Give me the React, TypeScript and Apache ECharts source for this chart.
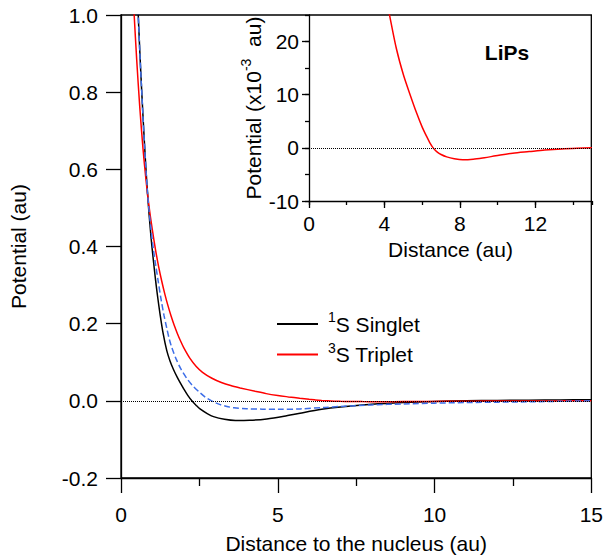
import React, { useEffect, useRef } from 'react';
import * as echarts from 'echarts';

const FONT = '"Liberation Sans", Arial, Helvetica, sans-serif';

// Distance r (au) vs potential V (au)
const singlet: [number, number][] = [
  [0.53, 1.04], [0.55, 1.0], [0.6, 0.905], [0.65, 0.82], [0.7, 0.74], [0.75, 0.665], [0.8, 0.595],
  [0.87, 0.51], [0.93, 0.45], [0.98, 0.405], [1.085, 0.325], [1.16, 0.275], [1.245, 0.225],
  [1.35, 0.172], [1.46, 0.13], [1.56, 0.104], [1.67, 0.082], [1.8, 0.06], [1.9, 0.045], [2.0, 0.031],
  [2.13, 0.014], [2.26, 0.0], [2.4, -0.012], [2.52, -0.021], [2.75, -0.033], [2.95, -0.041],
  [3.3, -0.048], [3.65, -0.051], [4.1, -0.0505], [4.65, -0.047], [5.2, -0.04], [5.71, -0.032],
  [6.4, -0.022], [7.0, -0.016], [8.0, -0.009], [9.0, -0.0045], [10.0, -0.0015], [11.0, 0.0],
  [12.0, 0.001], [13.0, 0.0017], [14.0, 0.0024], [15.0, 0.003],
];

const triplet: [number, number][] = [
  [0.4, 1.03], [0.42, 1.0], [0.5, 0.885], [0.6, 0.76], [0.7, 0.655], [0.8, 0.57], [0.9, 0.5],
  [1.0, 0.443], [1.1, 0.392], [1.2, 0.348], [1.3, 0.31], [1.4, 0.276], [1.5, 0.246], [1.6, 0.219],
  [1.7, 0.195], [1.8, 0.174], [1.9, 0.155], [2.0, 0.138], [2.2, 0.11], [2.4, 0.089], [2.6, 0.074],
  [2.9, 0.0585], [3.2, 0.0475], [3.5, 0.0395], [3.8, 0.0335], [4.28, 0.0248], [4.63, 0.0187],
  [5.0, 0.0138], [5.34, 0.0102], [5.7, 0.0066], [6.0, 0.0039], [6.2, 0.0024], [6.4, 0.001],
  [6.6, -0.0001], [6.8, -0.0008], [7.0, -0.00125], [7.3, -0.0017], [7.7, -0.00205], [8.15, -0.00225],
  [8.7, -0.00215], [9.3, -0.00185], [9.9, -0.0015], [10.8, -0.001], [11.67, -0.0007], [12.5, -0.00042],
  [13.4, -0.0002], [14.2, -0.00008], [15.0, 0.0],
];

const dashed: [number, number][] = [
  [0.53, 1.04], [0.55, 1.0], [0.6, 0.905], [0.65, 0.82], [0.7, 0.74], [0.75, 0.665], [0.8, 0.595],
  [0.87, 0.515], [0.95, 0.45], [1.03, 0.395], [1.11, 0.35], [1.19, 0.308], [1.28, 0.262], [1.37, 0.222],
  [1.46, 0.188], [1.54, 0.16], [1.62, 0.138], [1.75, 0.11], [1.9, 0.084], [2.1, 0.058], [2.3, 0.038],
  [2.52, 0.021], [2.7, 0.009], [2.89, 0.0], [3.1, -0.008], [3.35, -0.014], [3.6, -0.018], [4.0, -0.0205],
  [4.5, -0.0215], [5.0, -0.022], [5.71, -0.021], [6.5, -0.017], [7.0, -0.0145], [8.0, -0.0105],
  [9.0, -0.008], [10.0, -0.006], [11.0, -0.0045], [12.0, -0.0035], [13.0, -0.0025], [14.0, -0.0012],
  [15.0, 0.0],
];

const legendNames = ['Singlet', 'Triplet'];
const legendSup: Record<string, string> = { Singlet: '1', Triplet: '3' };
const legendText: Record<string, string> = { Singlet: 'S Singlet', Triplet: 'S Triplet' };

const mainXTitle = 'Distance to the nucleus (au)';
const mainYTitle = 'Potential (au)';
const insetXTitle = 'Distance (au)';
const insetYTitle = ['Potential (x10', '-3', '  au)'];
const insetTag = 'LiPs';

const ls = { color: '#000', width: 1.3 };
const lab = { color: '#000', fontSize: 21, fontFamily: FONT };
const rich = {
  n: { fontSize: 21, lineHeight: 28, fontFamily: FONT, color: '#000' },
  sup: { fontSize: 14, lineHeight: 7, verticalAlign: 'top', fontFamily: FONT, color: '#000', padding: [0, 0, 0, 5] },
  sup2: { fontSize: 14, lineHeight: 7, verticalAlign: 'top', fontFamily: FONT, color: '#000' },
};

const zeroLine = {
  silent: true,
  symbol: ['none', 'none'],
  label: { show: false },
  lineStyle: { type: 'dotted', color: '#000', width: 1 },
  data: [{ yAxis: 0 }],
};

const SMOOTH = 0.3;

export default function App() {
  const ref = useRef<HTMLDivElement>(null);
  useEffect(() => {
    const chart = echarts.init(ref.current!, null, { renderer: 'svg' });
    const option: any = {
      animation: false,
      backgroundColor: '#fff',
      textStyle: { fontFamily: FONT },
      grid: [
        { left: 121, top: 15, right: 14, bottom: 77, show: true, borderColor: '#000', borderWidth: 1.3, backgroundColor: 'transparent' },
        { left: 309, top: 15, right: 14, bottom: 358, show: false },
      ],
      legend: {
        data: legendNames,
        orient: 'vertical',
        left: 277,
        top: 310,
        padding: 0,
        itemGap: 6,
        itemWidth: 41,
        itemHeight: 2,
        icon: 'rect',
        selectedMode: false,
        formatter: (name: string) => `{sup|${legendSup[name]}}{n|${legendText[name]}}`,
        textStyle: { color: '#000', fontSize: 21, fontFamily: FONT, rich },
      },
      xAxis: [
        {
          gridIndex: 0, type: 'value', min: 0, max: 15, interval: 5,
          axisLine: { onZero: false, lineStyle: ls },
          axisTick: { inside: false, length: 15, lineStyle: ls },
          minorTick: { show: true, splitNumber: 2, length: 8, lineStyle: ls },
          splitLine: { show: false },
          axisLabel: { ...lab, margin: 26 },
          name: mainXTitle, nameLocation: 'middle', nameGap: 55, nameTextStyle: lab,
        },
        {
          gridIndex: 1, type: 'value', min: 0, max: 15, interval: 4, position: 'bottom',
          axisLine: { onZero: false, lineStyle: ls },
          axisTick: { inside: false, length: 7, lineStyle: ls },
          splitLine: { show: false },
          axisLabel: { ...lab, margin: 12, showMaxLabel: false },
          name: insetXTitle, nameLocation: 'middle', nameGap: 38, nameTextStyle: lab,
        },
        {
          gridIndex: 1, type: 'value', min: 0, max: 15, interval: 2, position: 'bottom',
          axisLine: { show: false, onZero: false },
          axisTick: { inside: false, length: 4, lineStyle: ls },
          splitLine: { show: false },
          axisLabel: { show: false },
        },
      ],
      yAxis: [
        {
          gridIndex: 0, type: 'value', min: -0.2, max: 1.0, interval: 0.2,
          axisLine: { show: true, onZero: false, lineStyle: ls },
          axisTick: { show: true, inside: false, length: 15, lineStyle: ls },
          splitLine: { show: false },
          axisLabel: { ...lab, margin: 23, formatter: (v: number) => v.toFixed(1) },
          name: mainYTitle, nameLocation: 'middle', nameGap: 92, nameTextStyle: lab,
        },
        {
          gridIndex: 1, type: 'value', min: -10, max: 25, interval: 10, position: 'left',
          axisLine: { show: true, onZero: false, lineStyle: ls },
          axisTick: { show: true, inside: false, length: 7, lineStyle: ls },
          splitLine: { show: false },
          axisLabel: { ...lab, margin: 10, showMaxLabel: false },
          name: `{n|${insetYTitle[0]}}{sup2|${insetYTitle[1]}}{n|${insetYTitle[2]}}`,
          nameLocation: 'middle', nameGap: 42,
          nameTextStyle: { ...lab, rich },
        },
        {
          gridIndex: 1, type: 'value', min: -10, max: 25, interval: 5, position: 'left',
          axisLine: { show: false, onZero: false },
          axisTick: { show: true, inside: false, length: 4, lineStyle: ls },
          splitLine: { show: false },
          axisLabel: { show: false },
        },
      ],
      series: [
        {
          name: 'Singlet', type: 'line', xAxisIndex: 0, yAxisIndex: 0, data: singlet,
          symbol: 'none', smooth: SMOOTH, clip: true,
          lineStyle: { color: '#000', width: 1.5 }, itemStyle: { color: '#000' },
          markLine: zeroLine,
        },
        {
          name: 'Triplet', type: 'line', xAxisIndex: 0, yAxisIndex: 0, data: triplet,
          symbol: 'none', smooth: SMOOTH, clip: true,
          lineStyle: { color: '#ff0000', width: 1.5 }, itemStyle: { color: '#ff0000' },
        },
        {
          name: 'Model', type: 'line', xAxisIndex: 0, yAxisIndex: 0, data: dashed,
          symbol: 'none', smooth: SMOOTH, clip: true,
          lineStyle: { color: '#3d6ee8', width: 1.5, type: [6, 3] }, itemStyle: { color: '#3d6ee8' },
        },
        {
          name: 'Triplet inset', type: 'line', xAxisIndex: 1, yAxisIndex: 1,
          data: triplet.map(([r, v]) => [r, v * 1000]),
          symbol: 'none', smooth: SMOOTH, clip: true,
          lineStyle: { color: '#ff0000', width: 1.5 }, itemStyle: { color: '#ff0000' },
          markLine: zeroLine,
        },
      ],
      graphic: [
        {
          type: 'text', x: 507, y: 52,
          style: { text: insetTag, fontSize: 21, fontWeight: 'bold', fontFamily: FONT, fill: '#000', align: 'center', verticalAlign: 'middle' },
        },
      ],
    };
    chart.setOption(option);
    return () => chart.dispose();
  }, []);
  return <div ref={ref} style={{ position: 'fixed', left: 0, top: 0, width: 606, height: 559, background: '#fff' }} />;
}
